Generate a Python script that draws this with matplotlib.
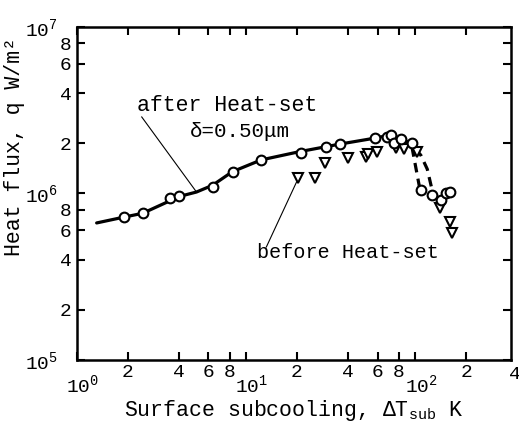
import numpy as np
import matplotlib
matplotlib.use('Agg')
import matplotlib.pyplot as plt
from matplotlib.ticker import FixedLocator
import matplotlib.transforms as mtransforms

# Fonts: typewriter look
plt.rcParams['font.family'] = ['Liberation Mono', 'DejaVu Sans Mono']
plt.rcParams['mathtext.fontset'] = 'custom'
plt.rcParams['mathtext.rm'] = 'Liberation Mono'
plt.rcParams['mathtext.it'] = 'Liberation Mono:italic'

#--------------------------------------------------------------------------------------------
# DATA

# after Heat-set, delta = 0.50 um (open circles)
after_x = [1.89, 2.45, 3.54, 4.0, 6.35, 8.33, 12.3, 21.2, 29.9, 36.1, 58.1, 68.4, 72.2,
           75.2, 82.7, 96.0, 108, 126, 142, 152, 161]
after_y = [7.22e5, 7.64e5, 9.4e5, 9.66e5, 1.094e6, 1.346e6, 1.59e6, 1.75e6, 1.90e6, 1.98e6,
           2.15e6, 2.18e6, 2.25e6, 2.01e6, 2.13e6, 2.01e6, 1.05e6, 9.8e5, 9.14e5, 1.0e6, 1.02e6]

# before Heat-set (open down triangles)
before_x = [20.4, 25.7, 29.4, 40.3, 51.4, 52.8, 59.7, 77.3, 86.1, 102.8, 140, 161, 165]
before_y = [1.24e6, 1.24e6, 1.52e6, 1.63e6, 1.66e6, 1.73e6, 1.78e6, 1.88e6, 1.85e6, 1.78e6,
            8.19e5, 6.74e5, 5.79e5]

# hand-drawn fit curve (solid) through the after-heat-set points
fit_x = [1.31, 1.89, 2.45, 4.05, 5.1, 6.35, 8.3, 12.3, 20.6, 36, 58, 72, 80.6]
fit_y = [6.65e5, 7.2e5, 7.6e5, 9.6e5, 1.02e6, 1.12e6, 1.35e6, 1.59e6, 1.78e6, 1.98e6,
         2.15e6, 2.25e6, 2.14e6]

# dashed drop-off curves
dash_after_x = [80.6, 90, 96, 106]
dash_after_y = [2.14e6, 2.05e6, 1.88e6, 1.1e6]
dash_before_x = [100, 108, 118, 126]
dash_before_y = [1.85e6, 1.7e6, 1.4e6, 1.05e6]

# tick positions / labels
x_major = [1, 10, 100]
x_major_labels = ['$10^0$', '$10^1$', '$10^2$']
x_minor = [2, 4, 6, 8, 20, 40, 60, 80, 200]
x_minor_labels = ['2', '4', '6', '8', '2', '4', '6', '8', '2']
y_major = [1e5, 1e6, 1e7]
y_major_labels = ['$10^5$', '$10^6$', '$10^7$']
y_minor = [2e5, 4e5, 6e5, 8e5, 2e6, 4e6, 6e6, 8e6]
y_minor_labels = ['2', '4', '6', '8', '2', '4', '6', '8']

#--------------------------------------------------------------------------------------------
fig = plt.figure(figsize=(5.19, 4.21), dpi=100)
ax = fig.add_axes([0.148, 0.145, 0.837, 0.791])

ax.set_xscale('log')
ax.set_yscale('log')

# Curves
ax.plot(fit_x, fit_y, color='black', lw=2.3, solid_capstyle='round')
ax.plot(dash_after_x, dash_after_y, color='black', lw=2.3, ls=(0, (3, 2)))
ax.plot(dash_before_x, dash_before_y, color='black', lw=2.3, ls=(0, (3, 2)))

# Points
ax.plot(before_x, before_y, ls='none', marker='v', ms=7.5, mfc='white', mec='black', mew=1.5)
ax.plot(after_x, after_y, ls='none', marker='o', ms=7, mfc='white', mec='black', mew=1.5)

# Leader lines
ax.plot([2.42, 5.1], [2.88e6, 1.02e6], color='black', lw=0.8)
ax.plot([19.9, 13.2], [1.17e6, 4.77e5], color='black', lw=0.8)

# Annotation texts
ax.text(2.26, 3.36e6, 'after Heat-set', fontsize=15.5, va='center', ha='left')
ax.text(4.64, 2.34e6, 'δ=0.50μm', fontsize=15, va='center', ha='left')
ax.text(11.7, 4.39e5, 'before Heat-set', fontsize=14.5, va='center', ha='left')

# Ticks
ax.xaxis.set_major_locator(FixedLocator(x_major))
ax.xaxis.set_minor_locator(FixedLocator(x_minor))
ax.set_xticks(x_major, x_major_labels)
ax.set_xticks(x_minor, x_minor_labels, minor=True)
ax.yaxis.set_major_locator(FixedLocator(y_major))
ax.yaxis.set_minor_locator(FixedLocator(y_minor))
ax.set_yticks(y_major, y_major_labels)
ax.set_yticks(y_minor, y_minor_labels, minor=True)
ax.set_xlim(1, 370)
ax.set_ylim(1e5, 1e7)

ax.tick_params(which='both', direction='in', top=True, right=True, length=5.5, width=1.5,
               labelsize=14)
ax.tick_params(axis='x', which='major', pad=10)
ax.tick_params(axis='x', which='minor', pad=3)
ax.tick_params(axis='y', which='major', pad=14)
ax.tick_params(axis='y', which='minor', pad=4)

# decade labels on x sit a little to the right of their ticks
shift = mtransforms.ScaledTranslation(6 / 100, 0, fig.dpi_scale_trans)
for lbl in ax.get_xticklabels():
    lbl.set_transform(lbl.get_transform() + shift)

# extra "4" label beyond the right edge (tick at 400 falls outside the axis)
trans = mtransforms.blended_transform_factory(ax.transData, ax.transAxes)
ax.text(390, -0.045, '4', transform=trans, fontsize=14, ha='center', va='center', clip_on=False)

for s in ax.spines.values():
    s.set_linewidth(1.8)

# Axis labels
ax.set_xlabel('Surface subcooling, ΔT$_{\\rm sub}$ K', fontsize=15.5, labelpad=1)
ax.set_ylabel('Heat flux, q W/m²', fontsize=15.5)
ax.yaxis.set_label_coords(-0.12, 0.64)

fig.savefig('out.png', dpi=100)
